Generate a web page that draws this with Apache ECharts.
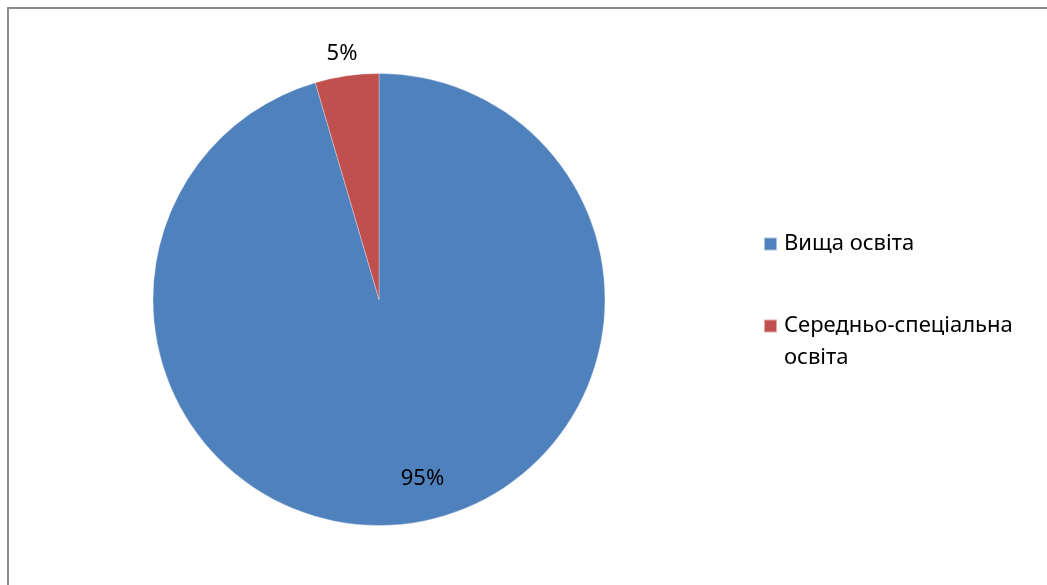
<!DOCTYPE html>
<html>
<head>
<meta charset="utf-8">
<script src="https://cdn.jsdelivr.net/npm/echarts@6/dist/echarts.min.js"></script>
<style>
  html, body { margin: 0; padding: 0; background: #ffffff; }
  #chart { width: 1047px; height: 585px; }
</style>
</head>
<body>
<div id="chart"></div>
<script>
// Education level of respondents
const categories = ['Вища освіта', 'Середньо-спеціальна освіта'];
const legendNames = ['Вища освіта', '\nСередньо-спеціальна\nосвіта'];
const counts = [21, 1];
const colors = ['#4F81BD', '#C0504D'];

const FONT = '"Noto Sans", "Open Sans", sans-serif';

const chart = echarts.init(document.getElementById('chart'), null, { renderer: 'canvas' });

const pieData = categories.map((name, i) => ({
  name: name,
  value: counts[i],
  itemStyle: { color: colors[i] },
  label: i === 0
    ? { position: 'inside' }
    : { position: 'outside' }
}));

chart.setOption({
  animation: false,
  backgroundColor: '#ffffff',
  graphic: [{
    type: 'rect',
    shape: { x: 8, y: 8, width: 1100, height: 640 },
    style: { fill: 'none', stroke: '#8c8c8c', lineWidth: 2 },
    silent: true
  }],
  legend: {
    orient: 'vertical',
    left: 763,
    top: 228,
    padding: 0,
    itemWidth: 13,
    itemHeight: 13,
    itemGap: 18,
    icon: 'rect',
    data: categories,
    formatter: name => legendNames[categories.indexOf(name)],
    textStyle: {
      fontFamily: FONT,
      fontSize: 22,
      color: '#000000',
      lineHeight: 32,
      padding: [0, 0, 0, 2]
    }
  },
  series: [{
    type: 'pie',
    center: [379, 299.5],
    radius: 226,
    startAngle: 90,
    clockwise: true,
    percentPrecision: 0,
    avoidLabelOverlap: false,
    label: {
      show: true,
      formatter: '{d}%',
      fontFamily: FONT,
      fontSize: 22,
      color: '#000000'
    },
    labelLine: { show: false, length: 10, length2: 0 },
    labelLayout: function (params) {
      if (params.dataIndex === 0) {
        return { dx: 27, dy: 64 };
      }
      return { dx: 17, dy: -12 };
    },
    emphasis: { disabled: true },
    itemStyle: { borderColor: 'rgba(255,255,255,0.5)', borderWidth: 0.6 },
    data: pieData
  }]
});
</script>
</body>
</html>
